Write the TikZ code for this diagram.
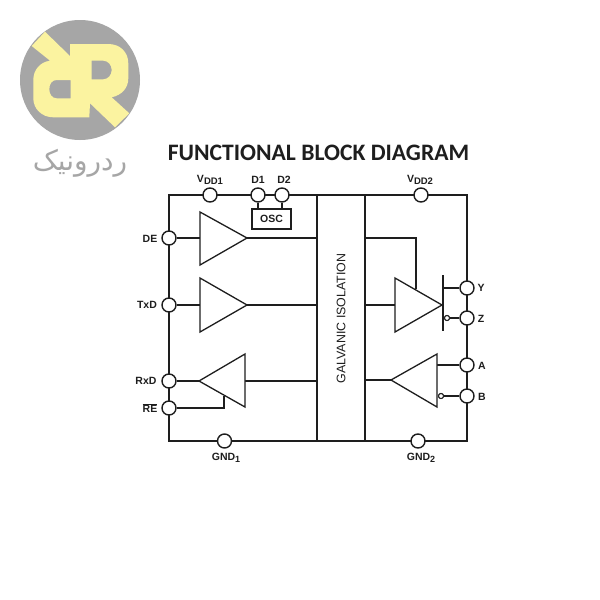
\documentclass[tikz,border=0pt]{standalone}
\usepackage{fontspec}
\setmainfont{Liberation Sans}
\newfontfamily\titlefont{Carlito}
\newfontfamily\arabicfont[Script=Arabic]{DejaVu Sans}
\TeXXeTstate=1
\definecolor{logogray}{HTML}{A6A6A6}
\definecolor{logoyellow}{HTML}{FBF3A0}
\definecolor{ink}{HTML}{1E1E1E}
\tikzset{
  x=1pt,y=-1pt,
  pin/.style={circle,draw=ink,fill=white,line width=1.4pt,minimum size=14pt,inner sep=0pt},
  bubble/.style={circle,draw=ink,fill=white,line width=1pt,minimum size=5pt,inner sep=0pt},
  thick line/.style={draw=ink,line width=2.4pt},
  thin line/.style={draw=ink,line width=1.5pt},
  amp/.style={draw=ink,line width=1.3pt,fill=white,line join=miter},
  lbl/.style={font=\fontsize{10.5}{12}\selectfont\bfseries,text=ink,inner sep=0pt},
}
\begin{document}
\begin{tikzpicture}
\useasboundingbox (0,0) rectangle (600,600);
\fill[white] (0,0) rectangle (600,600);
% logo
\fill[logogray] (80,80) circle [radius=60];
\fill[logoyellow,even odd rule]
  (45,31.7) -- (70,56) -- (70,44) -- (108.3,44)
  .. controls (120,44) and (128.3,52) .. (128.3,63.3)
  -- (128.3,78.3) .. controls (128.3,88) and (122,95) .. (111.7,97.3)
  -- (129.3,113.3) -- (115,127.3) -- (90,103.3) -- (89.3,117.3) -- (53.3,117.3)
  .. controls (42,117.3) and (33.3,109) .. (33.3,98.3) -- (33.3,80)
  .. controls (33.3,70) and (40,62) .. (50,60.7) -- (31.7,46) -- cycle
  (91.7,60.7) -- (103.3,60.7) .. controls (108,60.7) and (111.7,65) .. (111.7,70)
  .. controls (111.7,75) and (108,79.3) .. (103.3,79.3) -- (91.7,79.3) -- cycle
  (70.7,80) -- (56.7,80) .. controls (52,80) and (49.3,84) .. (49.3,89.3)
  .. controls (49.3,94) and (52,98.3) .. (56.7,98.3) -- (70.7,98.3) -- cycle;
\node[font=\arabicfont\fontsize{28}{30}\selectfont,text=logogray,inner sep=0pt] (brand) at (80,163) {\beginR ردرونیک\endR};
% title
\node[font=\titlefont\fontsize{23.6}{26}\selectfont\bfseries,text=ink,inner sep=0pt] (title) at (318.5,153) {FUNCTIONAL BLOCK DIAGRAM};
% frame
\draw[thick line] (169,195) -- (467,195) -- (467,441) -- (169,441) -- cycle;
\node[draw=ink,line width=2pt,fill=white,minimum width=48pt,minimum height=246pt,inner sep=0pt] (iso) at (341,318) {};
\node[rotate=90,font=\fontsize{12.4}{14}\selectfont,text=ink,inner sep=0pt] (isolabel) at (341,318.5) {GALVANIC ISOLATION};
% pins
\node[pin] (vdd1) at (210,195) {};
\node[pin] (d1) at (258,195) {};
\node[pin] (d2) at (282,195) {};
\node[pin] (de) at (169,238) {};
\node[pin] (txd) at (169,305) {};
\node[pin] (rxd) at (169,381) {};
\node[pin] (re) at (169,408) {};
\node[pin] (gnd1) at (224.5,441) {};
\node[pin] (vdd2) at (421,195) {};
\node[pin] (y) at (467,288) {};
\node[pin] (z) at (467,318) {};
\node[pin] (a) at (467,365) {};
\node[pin] (b) at (467,396) {};
\node[pin] (gnd2) at (418,441) {};
% osc
\node[draw=ink,line width=1.8pt,fill=white,minimum width=39pt,minimum height=20pt,inner sep=0pt,font=\fontsize{10.5}{12}\selectfont\bfseries,text=ink] (osc) at (271.5,219) {OSC};
\draw[thin line] (d1) -- (d1 |- osc.north);
\draw[thin line] (d2) -- (d2 |- osc.north);
% amplifiers: named tip coordinates
\coordinate (t1) at (247,238); \coordinate (i1) at (200,238);
\coordinate (t2) at (247,305); \coordinate (i2) at (200,305);
\coordinate (t3) at (199,381); \coordinate (o3) at (245,381);
\coordinate (t4) at (442,305); \coordinate (i4) at (395,305);
\coordinate (t5) at (391,380); \coordinate (o5) at (437,380);
\coordinate (isoR1) at (365,238); \coordinate (corner1) at (416,238); \coordinate (en4) at (416,289);
\coordinate (isoL1) at (317,238); \coordinate (isoL2) at (317,305); \coordinate (isoL3) at (317,381);
\coordinate (isoR2) at (365,305); \coordinate (isoR3) at (365,380);
\coordinate (recorner) at (224,408); \coordinate (ren) at (224,396);
\coordinate (ybar) at (443,288); \coordinate (abar) at (437,365);
\node[bubble] (zb) at (447,318) {};
\node[bubble] (bb) at (441,396) {};
% wires
\draw[thin line] (de) -- (i1);
\draw[thick line] (t1) -- (isoL1);
\draw[thick line] (txd) -- (i2);
\draw[thick line] (t2) -- (isoL2);
\draw[thick line] (rxd) -- (t3);
\draw[thick line] (o3) -- (isoL3);
\draw[thin line] (re) -- (recorner) -- (ren);
\draw[thick line] (isoR1) -- (corner1) -- (en4);
\draw[thick line] (isoR2) -- (i4);
\draw[thick line] (isoR3) -- (t5);
\draw[thin line] (ybar) -- (y);
\draw[thin line] (zb) -- (z);
\draw[thin line] (abar) -- (a);
\draw[thin line] (bb) -- (b);
\draw[amp] (200,212) -- (200,265) -- (t1) -- cycle;
\draw[amp] (200,278) -- (200,332) -- (t2) -- cycle;
\draw[amp] (245,354) -- (245,407) -- (t3) -- cycle;
\draw[amp] (395,278) -- (395,332) -- (t4) -- cycle;
\draw[amp] (437,354) -- (437,407) -- (t5) -- cycle;
\draw[thin line] (443,275) -- (443,331);
\node[bubble] at (zb) {};
\node[bubble] at (bb) {};
% labels
\node[lbl] (lvdd1) at (210,180) {V\raisebox{-2pt}{\fontsize{9.5}{10}\selectfont DD1}};
\node[lbl] (ld1) at (258,180) {D1};
\node[lbl] (ld2) at (284,180) {D2};
\node[lbl] (lvdd2) at (420,180) {V\raisebox{-2pt}{\fontsize{9.5}{10}\selectfont DD2}};
\node[lbl] (lde) at (150,239) {DE};
\node[lbl] (ltxd) at (147,305) {TxD};
\node[lbl] (lrxd) at (146,381) {RxD};
\node[lbl] (lre) at (150,408) {$\overline{\mbox{RE}}$};
\node[lbl] (lgnd1) at (226,458) {GND\raisebox{-2.5pt}{\fontsize{9}{10}\selectfont 1}};
\node[lbl] (lgnd2) at (421,458) {GND\raisebox{-2.5pt}{\fontsize{9}{10}\selectfont 2}};
\node[lbl] (ly) at (481,288) {Y};
\node[lbl] (lz) at (481,319) {Z};
\node[lbl] (la) at (482,366) {A};
\node[lbl] (lb) at (482,397) {B};
\end{tikzpicture}
\end{document}
